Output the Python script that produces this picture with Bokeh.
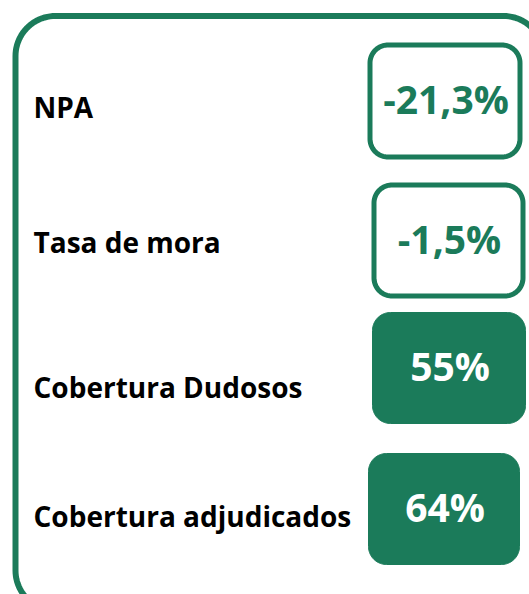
import numpy as np
from bokeh.plotting import figure
from bokeh.models import Range1d, ColumnDataSource
from bokeh.core.properties import value
from bokeh.embed import file_html
from bokeh.resources import INLINE

# ---- data ----
labels = ["NPA", "Tasa de mora", "Cobertura Dudosos", "Cobertura adjudicados"]
values = ["-21,3%", "-1,5%", "55%", "64%"]
filled = [False, False, True, True]

# ---- layout (page pixels) ----
box_left = [369.5, 373.5, 372, 368]
box_right = [519.5, 522.5, 525, 519]
box_top = [44.5, 184.5, 312, 453]
box_bottom = [156.5, 295.5, 423, 564]
label_baseline = [117, 252, 397, 526]
label_x = 33

GREEN = "#1b7b5a"
FONT = "Open Sans"
LABEL_SIZE = 28
VALUE_SIZE = 39
BASE_SHIFT = 0.39  # svg baseline correction (em)


def rounded_rect(x0, y0, x1, y1, r, n=24):
    xs, ys = [], []
    corners = [
        (x1 - r, y0 + r, -np.pi / 2, 0),
        (x1 - r, y1 - r, 0, np.pi / 2),
        (x0 + r, y1 - r, np.pi / 2, np.pi),
        (x0 + r, y0 + r, np.pi, 1.5 * np.pi),
    ]
    for cx, cy, a0, a1 in corners:
        t = np.linspace(a0, a1, n)
        xs.extend(cx + r * np.cos(t))
        ys.extend(cy + r * np.sin(t))
    return xs, ys


p = figure(width=529, height=594, output_backend="svg", toolbar_location=None,
           x_range=Range1d(0, 529), y_range=Range1d(594, 0),
           x_axis_location=None, y_axis_location=None, min_border=0)
p.grid.visible = False
p.outline_line_color = None
p.background_fill_color = "white"
p.border_fill_color = "white"

# outer frame
ox, oy = rounded_rect(15, 15.5, 543, 610, 40)
p.patch(ox, oy, fill_color=None, line_color=GREEN, line_width=6)

# boxes
for i in range(len(labels)):
    bx, by = rounded_rect(box_left[i], box_top[i], box_right[i], box_bottom[i], 18)
    if filled[i]:
        p.patch(bx, by, fill_color=GREEN, line_color=GREEN, line_width=1)
    else:
        p.patch(bx, by, fill_color="white", line_color=GREEN, line_width=5)

src = ColumnDataSource(dict(
    lx=[label_x] * len(labels),
    ly=[b - BASE_SHIFT * LABEL_SIZE for b in label_baseline],
    label=labels,
    vx=[(l + r) / 2 + 1 for l, r in zip(box_left, box_right)],
    vy=[(t + b) / 2 + 13 - BASE_SHIFT * VALUE_SIZE for t, b in zip(box_top, box_bottom)],
    val=values,
    vcol=["white" if f else GREEN for f in filled],
))

p.text(x="lx", y="ly", text="label", source=src, text_font=value(FONT),
       text_font_style="bold", text_font_size=f"{LABEL_SIZE}px", text_color="black",
       text_align="left", text_baseline="alphabetic")
p.text(x="vx", y="vy", text="val", source=src, text_font=value(FONT),
       text_font_style="bold", text_font_size=f"{VALUE_SIZE}px", text_color="vcol",
       text_align="center", text_baseline="alphabetic")

open("out.html", "w").write(file_html(p, INLINE))
